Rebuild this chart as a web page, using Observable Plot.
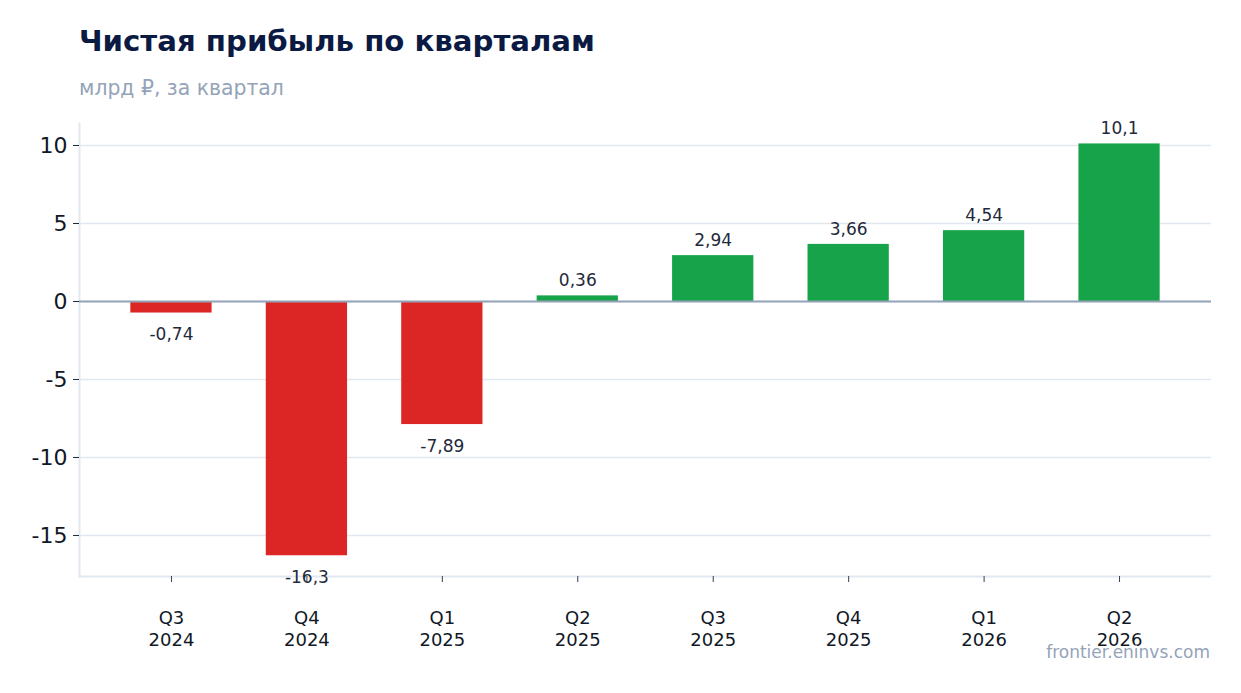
<!DOCTYPE html>
<html>
<head>
<meta charset="utf-8">
<script src="https://cdn.jsdelivr.net/npm/d3@7"></script>
<script src="https://cdn.jsdelivr.net/npm/@observablehq/plot@0.6"></script>
<style>
  html, body { margin: 0; padding: 0; background: #fff; }
  body { width: 1241px; height: 693px; position: relative; overflow: hidden; font-family: "DejaVu Sans", sans-serif; }
  #title { position: absolute; left: 79px; top: 24px; font-size: 29.2px; font-weight: bold; color: #0b1a42; white-space: nowrap; }
  #subtitle { position: absolute; left: 79px; top: 76px; font-size: 20.4px; color: #94a3b8; white-space: nowrap; }
  #chart { position: absolute; left: 0; top: 110px; }
  #credit { position: absolute; right: 31px; top: 642px; font-size: 17px; color: #94a3b8; }
</style>
</head>
<body>
<div id="title">Чистая прибыль по кварталам</div>
<div id="subtitle">млрд ₽, за квартал</div>
<div id="chart"></div>
<div id="credit">frontier.eninvs.com</div>
<script>
const quarters = ["Q3 2024", "Q4 2024", "Q1 2025", "Q2 2025", "Q3 2025", "Q4 2025", "Q1 2026", "Q2 2026"];
const profit = [-0.74, -16.3, -7.89, 0.36, 2.94, 3.66, 4.54, 10.1];
const labels = ["-0,74", "-16,3", "-7,89", "0,36", "2,94", "3,66", "4,54", "10,1"];
const yTicks = [-15, -10, -5, 0, 5, 10];

const data = quarters.map((q, i) => ({q, v: profit[i], label: labels[i]}));
const pos = data.filter(d => d.v >= 0);
const neg = data.filter(d => d.v < 0);

const yMin = -17.63, yMax = 11.41;

const chart = Plot.plot({
  width: 1241,
  height: 583,
  marginLeft: 79,
  marginRight: 30,
  marginTop: 13,
  marginBottom: 117,
  style: {fontFamily: "DejaVu Sans, sans-serif", color: "#1e293b", background: "#fff"},
  x: {domain: quarters, padding: 0.4, paddingOuter: 0.379, round: false, label: null},
  y: {domain: [yMin, yMax], label: null},
  marks: [
    Plot.gridY(yTicks, {stroke: "#e2e8f0", strokeOpacity: 1, strokeWidth: 1.5}),
    Plot.ruleY([yMin], {stroke: "#e2e8f0", strokeWidth: 2}),
    Plot.frame({anchor: "left", stroke: "#e2e8f0", strokeWidth: 2}),
    Plot.barY(data, {x: "q", y: "v", fill: d => d.v < 0 ? "#dc2626" : "#16a34a"}),
    Plot.ruleY([0], {stroke: "#94a3b8", strokeWidth: 2}),
    Plot.axisY(yTicks, {tickFormat: d => String(d), fontSize: 22, tickSize: 6, tickPadding: 6, stroke: "#1e293b", fill: "#111827"}),
    Plot.axisX({tickFormat: d => d.replace(" ", "\n"), fontSize: 18, lineHeight: 1.17, tickSize: 6, tickPadding: 27, lineAnchor: "top", stroke: "#334155", fill: "#111827"}),
    Plot.text(pos, {x: "q", y: "v", text: "label", dy: -15, fontSize: 17, fill: "#1e293b"}),
    Plot.text(neg, {x: "q", y: "v", text: "label", dy: 22, fontSize: 17, fill: "#1e293b"})
  ]
});
document.getElementById("chart").appendChild(chart);
</script>
</body>
</html>
